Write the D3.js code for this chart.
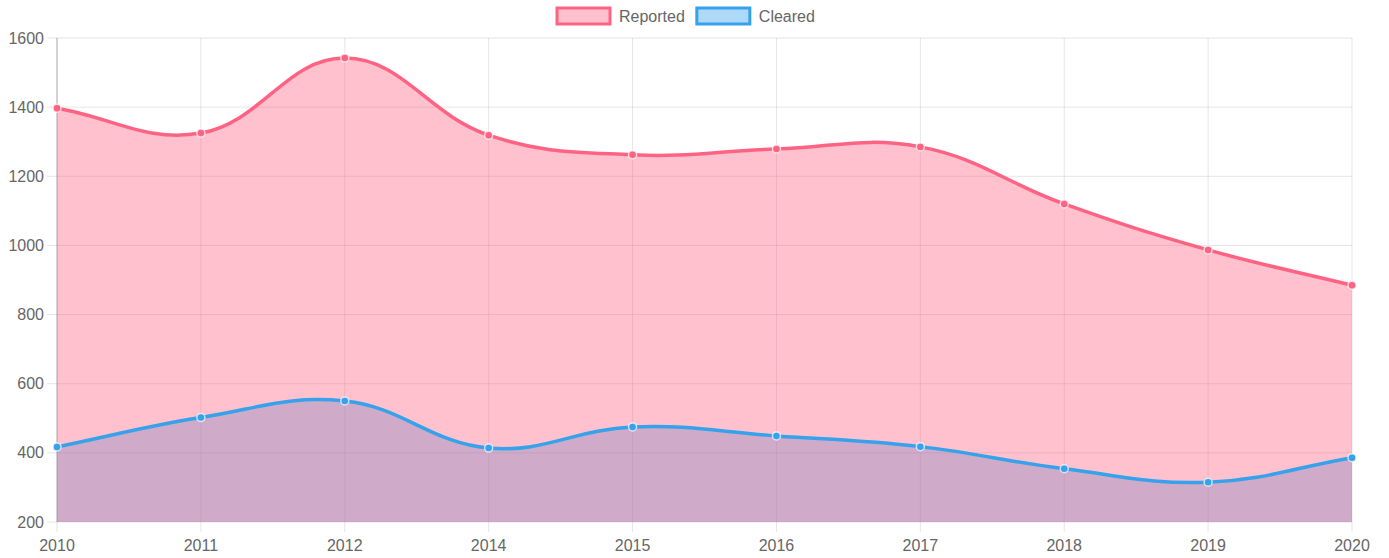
<!DOCTYPE html>
<html lang="en">
<head>
<meta charset="UTF-8">
<title>Reported vs Cleared</title>
<script src="https://d3js.org/d3.v7.min.js"></script>
<style>
  body { margin: 0; background: #fff; overflow: hidden; }
  svg { display: block; font-family: "Liberation Sans", Arial, Helvetica, sans-serif; }
  .tick-label { fill: #666; font-size: 16px; }
  .legend-label { fill: #666; font-size: 16px; }
</style>
</head>
<body>
<div id="chart"></div>
<script>
// data
const years = ["2010", "2011", "2012", "2014", "2015", "2016", "2017", "2018", "2019", "2020"];
const reported = [1397, 1325, 1542, 1319, 1262, 1279, 1285, 1120, 987, 885];
const cleared = [417, 502, 550, 414, 475, 449, 418, 354, 315, 386];
const yTicks = [200, 400, 600, 800, 1000, 1200, 1400, 1600];

const series = [
  { name: "Reported", values: reported, line: "rgb(255,99,132)", fill: "rgba(255,99,132,0.4)" },
  { name: "Cleared", values: cleared, line: "rgb(54,162,235)", fill: "rgba(54,162,235,0.4)" }
];

const width = 1389, height = 558;
const area = { left: 57, right: 1352, top: 38, bottom: 522 };

const svg = d3.select("#chart").append("svg")
  .attr("width", width)
  .attr("height", height);

const x = d3.scalePoint().domain(years).range([area.left, area.right]);
const y = d3.scaleLinear().domain([200, 1600]).range([area.bottom, area.top]);

// grid
const grid = svg.append("g");
grid.selectAll(".hgrid").data(yTicks).join("line")
  .attr("x1", area.left - 10).attr("x2", area.right)
  .attr("y1", d => y(d)).attr("y2", d => y(d))
  .attr("stroke", "rgba(0,0,0,0.1)");
grid.selectAll(".vgrid").data(years).join("line")
  .attr("x1", d => x(d)).attr("x2", d => x(d))
  .attr("y1", area.top).attr("y2", area.bottom + 10)
  .attr("stroke", "rgba(0,0,0,0.1)");
// left axis line
svg.append("line")
  .attr("x1", area.left).attr("x2", area.left)
  .attr("y1", area.top).attr("y2", area.bottom)
  .attr("stroke", "rgba(0,0,0,0.25)");

// tick labels
svg.append("g").selectAll("text").data(yTicks).join("text")
  .attr("class", "tick-label")
  .attr("x", area.left - 13)
  .attr("y", d => y(d))
  .attr("dy", "0.35em")
  .attr("text-anchor", "end")
  .text(d => d);

svg.append("g").selectAll("text").data(years).join("text")
  .attr("class", "tick-label")
  .attr("x", d => x(d))
  .attr("y", area.bottom + 23)
  .attr("dy", "0.35em")
  .attr("text-anchor", "middle")
  .text(d => d);

// spline like chart.js (tension 0.4)
function splinePath(pts, t, closeTo) {
  const clampY = v => Math.max(area.top, Math.min(area.bottom, v));
  const cps = pts.map((cur, i) => {
    const prev = pts[i - 1] || cur, next = pts[i + 1] || cur;
    const d01 = Math.hypot(cur[0] - prev[0], cur[1] - prev[1]);
    const d12 = Math.hypot(next[0] - cur[0], next[1] - cur[1]);
    let s01 = d01 / (d01 + d12), s12 = d12 / (d01 + d12);
    if (isNaN(s01)) s01 = 0;
    if (isNaN(s12)) s12 = 0;
    const fa = t * s01, fb = t * s12;
    return {
      p: [cur[0] - fa * (next[0] - prev[0]), clampY(cur[1] - fa * (next[1] - prev[1]))],
      n: [cur[0] + fb * (next[0] - prev[0]), clampY(cur[1] + fb * (next[1] - prev[1]))]
    };
  });
  const p = d3.path();
  p.moveTo(pts[0][0], pts[0][1]);
  for (let i = 1; i < pts.length; i++) {
    p.bezierCurveTo(cps[i - 1].n[0], cps[i - 1].n[1], cps[i].p[0], cps[i].p[1], pts[i][0], pts[i][1]);
  }
  if (closeTo != null) {
    p.lineTo(pts[pts.length - 1][0], closeTo);
    p.lineTo(pts[0][0], closeTo);
    p.closePath();
  }
  return p.toString();
}

series.forEach(s => {
  s.pts = s.values.map((v, i) => [x(years[i]), y(v)]);
});

// fills drawn in reverse order, then lines
series.slice().reverse().forEach(s => {
  svg.append("path")
    .attr("d", splinePath(s.pts, 0.4, area.bottom))
    .attr("fill", s.fill);
});

series.slice().reverse().forEach(s => {
  svg.append("path")
    .attr("d", splinePath(s.pts, 0.4))
    .attr("fill", "none")
    .attr("stroke", s.line)
    .attr("stroke-width", 3.5);
  svg.append("g").selectAll("circle").data(s.pts).join("circle")
    .attr("cx", d => d[0]).attr("cy", d => d[1])
    .attr("r", 4)
    .attr("fill", s.line)
    .attr("stroke", "rgba(255,255,255,0.7)")
    .attr("stroke-width", 1.5);
});

// legend
const legend = svg.append("g");
let lx = 557;
series.forEach(s => {
  legend.append("rect")
    .attr("x", lx).attr("y", 8)
    .attr("width", 53).attr("height", 16)
    .attr("fill", s.fill)
    .attr("stroke", s.line)
    .attr("stroke-width", 3);
  const t = legend.append("text")
    .attr("class", "legend-label")
    .attr("x", lx + 62).attr("y", 16)
    .attr("dy", "0.35em")
    .text(s.name);
  lx += 62 + t.node().getComputedTextLength() + 12;
});
</script>
</body>
</html>
